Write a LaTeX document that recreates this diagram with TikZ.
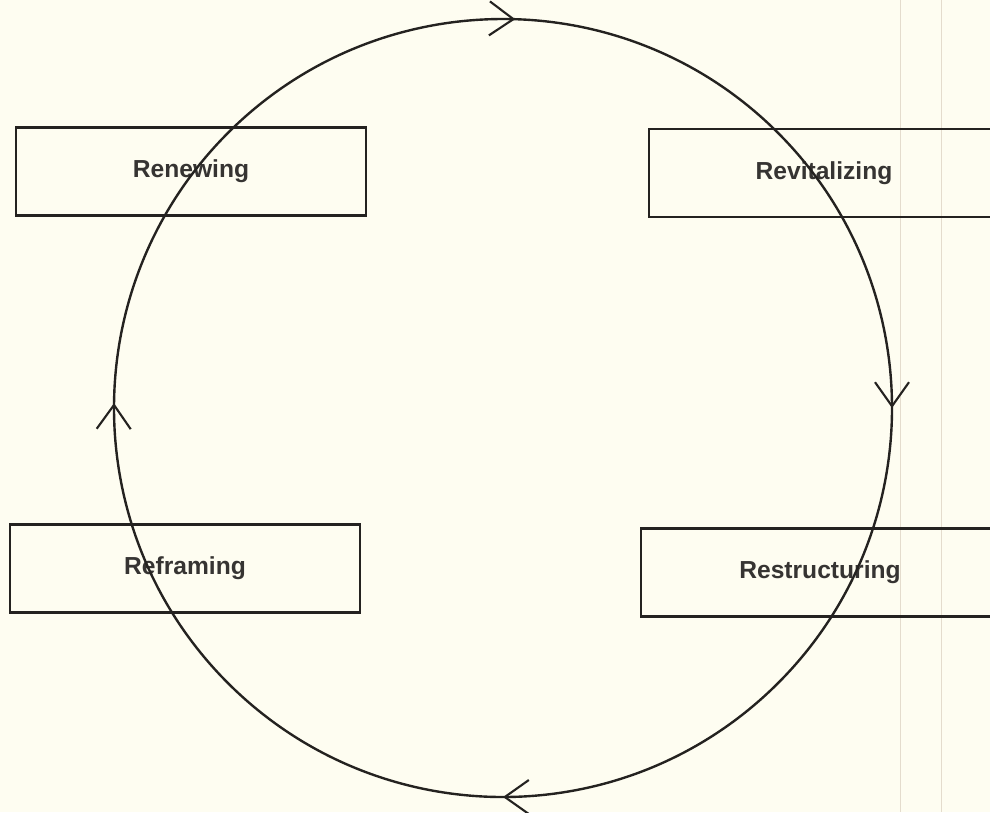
\documentclass[tikz,border=0pt]{standalone}
\usepackage{fontspec}
\setmainfont{Liberation Sans}
\usetikzlibrary{arrows.meta,decorations.markings}
\definecolor{paper}{RGB}{254,253,241}
\definecolor{ink}{RGB}{36,34,32}
\definecolor{fold}{RGB}{228,220,205}
\begin{document}
\begin{tikzpicture}[
    x=0.025cm, y=-0.025cm,
    every node/.style={font=\fontsize{17.5}{21}\selectfont\bfseries, text=ink!92},
    stagebox/.style={
        draw=ink,
        line width=1.5pt,
        minimum width=8.75cm,
        minimum height=2.2cm,
        inner sep=0pt
    },
    cyc/.style={draw=ink, line width=1.7pt},
    barb/.tip={Straight Barb[length=6mm, width=8.5mm, line width=1.5pt]},
    flow/.style={
        postaction={decorate},
        decoration={markings,
            mark=at position 0.125 with {\arrow{barb}},
            mark=at position 0.377 with {\arrow{barb}},
            mark=at position 0.630 with {\arrow{barb}},
            mark=at position 0.875 with {\arrow{barb}}}
    }
]
    % Paper
    \fill[paper] (0,0) rectangle (990,812);
    \useasboundingbox (0,0) rectangle (990,812);
    \draw[fold, line width=0.4pt] (900,0) -- (900,812);
    \draw[fold, line width=0.4pt] (941,0) -- (941,812);

    % Stage boxes
    \node[stagebox] (renewing) at (191,171.5) {Renewing};
    \node[stagebox] (revitalizing) at (824,173) {Revitalizing};
    \node[stagebox] (reframing) at (185,568.5) {Reframing};
    \node[stagebox, minimum width=8.95cm] (restructuring) at (820,572.5) {Restructuring};

    % Cycle
    \coordinate (hub) at (503,408);
    \draw[cyc, flow] ([shift={(45:389)}]hub)
        arc[start angle=45, end angle=405, radius=389];

\end{tikzpicture}
\end{document}
